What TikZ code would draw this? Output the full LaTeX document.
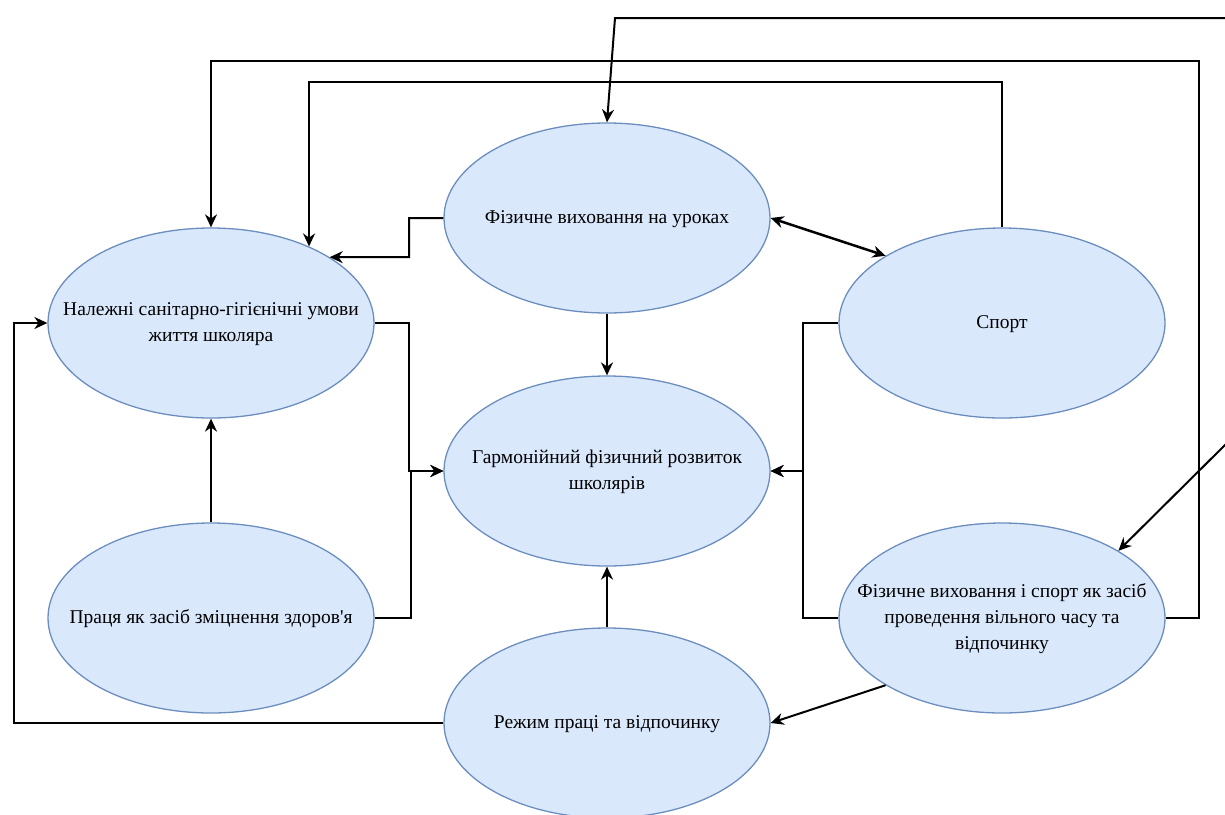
\documentclass[tikz,border=0pt]{standalone}
\usepackage{fontspec}
\setmainfont{Liberation Serif}
\usetikzlibrary{arrows.meta, shapes.geometric}
\definecolor{ovalfill}{HTML}{DAE8FC}
\definecolor{ovalline}{HTML}{6C8EBF}
\newcommand{\lbl}[1]{\makebox[0pt]{\begin{tabular}{@{}c@{}}#1\end{tabular}}}

\begin{document}
\begin{tikzpicture}[x=1pt, y=-1pt,
  oval/.style={ellipse, draw=ovalline, line width=1.3pt, fill=ovalfill,
    minimum width=326pt, minimum height=190pt, inner sep=0pt,
    font=\fontsize{19.5}{26}\selectfont},
  arr/.style={line width=2pt, -{Stealth[length=13pt,width=12pt]}},
  arrtwo/.style={line width=2.5pt,
    {Stealth[length=13pt,width=12pt]}-{Stealth[length=13pt,width=12pt]}}]
\useasboundingbox (0,0) rectangle (1225,814);
% ovals
\node[oval] (uroky) at (607,218) {\lbl{Фізичне виховання на уроках}};
\node[oval] (umovy) at (211,323)%
{\lbl{Належні санітарно-гігієнічні умови\\ життя школяра}};
\node[oval] (sport) at (1002,323) {\lbl{Спорт}};
\node[oval] (rozvytok) at (607,471)%
{\lbl{Гармонійний фізичний розвиток\\ школярів}};
\node[oval] (pratsia) at (211,618)%
{\lbl{Праця як засіб зміцнення здоров\textquotesingle я}};
\node[oval] (dozvillia) at (1002,618)%
{\lbl{Фізичне виховання і спорт як засіб\\ проведення вільного часу та\\ відпочинку}};
\node[oval] (rezhym) at (607,723) {\lbl{Режим праці та відпочинку}};
% free ends at the right edge
\coordinate (fromtop) at (1227,18);
\coordinate (fromside) at (1227,443);
% connectors
\draw[arr] (fromtop) -- (615,18) -- (uroky.north);
\draw[arr] (fromside) -- (dozvillia.30);
\draw[arr] (dozvillia.east) -| (1199,61) -| (umovy.north);
\draw[arr] (sport.north) -- (sport.north |- 0,82) -| (umovy.38.7);
\draw[arr] (uroky.west) -| (409,257) -- (umovy.29.4);
\draw[arrtwo] (uroky.east) -- (sport.150);
\draw[arr] (uroky.south) -- (rozvytok.north);
\draw[arr] (umovy.east) -- ++(34,0) |- (rozvytok.west);
\draw[arr] (pratsia.east) -- ++(36,0) |- (rozvytok.west);
\draw[arr] (sport.west) -- ++(-35,0) |- (rozvytok.east);
\draw[arr] (dozvillia.west) -- ++(-35,0) |- (rozvytok.east);
\draw[arr] (pratsia.north) -- (umovy.south);
\draw[arr] (rezhym.north) -- (rozvytok.south);
\draw[arr] (rezhym.west) -| (14,323) -- (umovy.west);
\draw[arr] (dozvillia.210) -- (rezhym.east);
\end{tikzpicture}
\end{document}
